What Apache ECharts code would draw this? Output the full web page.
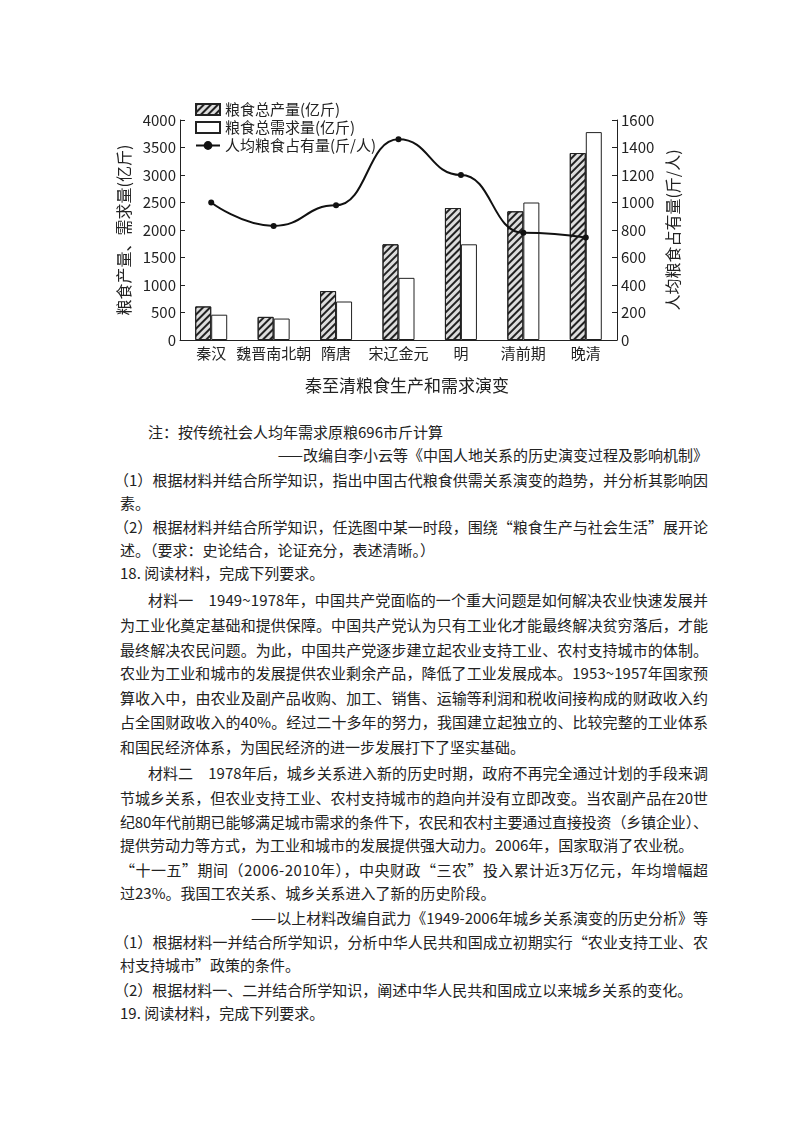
<!DOCTYPE html>
<html><head><meta charset="utf-8">
<script src="https://cdn.jsdelivr.net/npm/echarts@6/dist/echarts.min.js"></script>
<style>
body{margin:0;background:#fff;width:800px;height:1132px;position:relative;font-family:"Noto Sans CJK SC",sans-serif;color:#222}
#c{position:absolute;left:0;top:0;width:800px;height:410px}
.l{position:absolute;font-size:15px;line-height:20px;white-space:nowrap}
</style></head><body>
<div id="c"></div>
<div id="t"></div>
<script>
const categories=['秦汉','魏晋南北朝','隋唐','宋辽金元','明','清前期','晚清'];
const production=[610,420,890,1740,2400,2340,3400];
const demand=[460,390,700,1130,1740,2500,3780];
const perCapita=[1000,830,980,1460,1200,780,745];
const leftTicks=[0,4000,500];
const rightTicks=[0,1600,200];
// [y, mode(0 left,1 justify,2 right), text, indent]
const lines=[
[432,0,'注：按传统社会人均年需求原粮696市斤计算',28],
[455,2,'——改编自李小云等《中国人地关系的历史演变过程及影响机制》',0],
[480,1,'（1）根据材料并结合所学知识，指出中国古代粮食供需关系演变的趋势，并分析其影响因',-6],
[503,0,'素。',0],
[527,1,'（2）根据材料并结合所学知识，任选图中某一时段，围绕“粮食生产与社会生活”展开论',-6],
[550,0,'述。（要求：史论结合，论证充分，表述清晰。）',0],
[573,0,'18. 阅读材料，完成下列要求。',0],
[600,1,'材料一　1949~1978年，中国共产党面临的一个重大问题是如何解决农业快速发展并',28],
[625,1,'为工业化奠定基础和提供保障。中国共产党认为只有工业化才能最终解决贫穷落后，才能',0],
[650,1,'最终解决农民问题。为此，中国共产党逐步建立起农业支持工业、农村支持城市的体制。',0],
[673,1,'农业为工业和城市的发展提供农业剩余产品，降低了工业发展成本。1953~1957年国家预',0],
[698,1,'算收入中，由农业及副产品收购、加工、销售、运输等利润和税收间接构成的财政收入约',0],
[722,1,'占全国财政收入的40%。经过二十多年的努力，我国建立起独立的、比较完整的工业体系',0],
[747,0,'和国民经济体系，为国民经济的进一步发展打下了坚实基础。',0],
[773,1,'材料二　1978年后，城乡关系进入新的历史时期，政府不再完全通过计划的手段来调',28],
[798,1,'节城乡关系，但农业支持工业、农村支持城市的趋向并没有立即改变。当农副产品在20世',0],
[822,1,'纪80年代前期已能够满足城市需求的条件下，农民和农村主要通过直接投资（乡镇企业）、',0],
[845,0,'提供劳动力等方式，为工业和城市的发展提供强大动力。2006年，国家取消了农业税。',0],
[870,1,'“十一五”期间（2006-2010年），中央财政“三农”投入累计近3万亿元，年均增幅超',0],
[893,0,'过23%。我国工农关系、城乡关系进入了新的历史阶段。',0],
[918,2,'——以上材料改编自武力《1949-2006年城乡关系演变的历史分析》等',0],
[942,1,'（1）根据材料一并结合所学知识，分析中华人民共和国成立初期实行“农业支持工业、农',-6],
[965,0,'村支持城市”政策的条件。',0],
[990,0,'（2）根据材料一、二并结合所学知识，阐述中华人民共和国成立以来城乡关系的变化。',-6],
[1013,0,'19. 阅读材料，完成下列要求。',0]
];
const t=document.getElementById('t');
const R=708;
lines.forEach(([y,m,s,ind])=>{
 const d=document.createElement('div');d.className='l';d.style.top=(y-10)+'px';d.textContent=s;t.appendChild(d);
 const w=d.getBoundingClientRect().width;
 const L=120+ind;
 if(m===2){d.style.left=(R-w)+'px';}
 else{d.style.left=L+'px';
  if(m===1){const n=[...s].length;const ls=(R-L-w)/(n-1);d.style.letterSpacing=ls+'px';}
 }
});
const ch=echarts.init(document.getElementById('c'));
const ff='"Noto Sans CJK SC",sans-serif';
const ax={fontSize:15,color:'#222',fontFamily:ff};
const hatch={symbol:'rect',color:'#222',dashArrayX:[1,0],dashArrayY:[1.5,2.5],rotation:-Math.PI/4,symbolSize:1};
ch.setOption({
 animation:false,
 grid:{left:180,right:183,top:120,height:220},
 title:{text:'秦至清粮食生产和需求演变',top:372,left:300,textStyle:{fontSize:17,fontWeight:'normal',color:'#222',fontFamily:ff}},
 legend:{orient:'vertical',left:190,top:97,itemGap:3,itemWidth:24,itemHeight:11,textStyle:{fontSize:15,color:'#222',fontFamily:ff},
  data:[{name:'粮食总产量(亿斤)',icon:'rect'},{name:'粮食总需求量(亿斤)',icon:'rect'},{name:'人均粮食占有量(斤/人)'}]},
 xAxis:{type:'category',data:categories,axisLine:{lineStyle:{color:'#222'}},axisTick:{show:false},axisLabel:Object.assign({margin:6,interval:0},ax)},
 yAxis:[
  {type:'value',min:leftTicks[0],max:leftTicks[1],interval:leftTicks[2],splitLine:{show:false},axisLine:{show:true,lineStyle:{color:'#222'}},axisTick:{show:true,inside:true,length:5,lineStyle:{color:'#222'}},axisLabel:Object.assign({margin:4,formatter:v=>String(v)},ax),
   name:'粮食产量、需求量(亿斤)',nameLocation:'middle',nameRotate:90,nameGap:46,nameTextStyle:{fontSize:16,color:'#222',fontFamily:ff}},
  {type:'value',min:rightTicks[0],max:rightTicks[1],interval:rightTicks[2],splitLine:{show:false},axisLine:{show:true,lineStyle:{color:'#222'}},axisTick:{show:true,inside:true,length:5,lineStyle:{color:'#222'}},axisLabel:Object.assign({margin:4,formatter:v=>String(v)},ax),
   name:'人均粮食占有量(斤/人)',nameLocation:'middle',nameRotate:90,nameGap:44,nameTextStyle:{fontSize:16,color:'#222',fontFamily:ff}}
 ],
 series:[
  {name:'粮食总产量(亿斤)',type:'bar',data:production,barWidth:16,barGap:'0%',itemStyle:{color:'#ddd',borderColor:'#222',borderWidth:1,decal:hatch}},
  {name:'粮食总需求量(亿斤)',type:'bar',data:demand,barWidth:16,itemStyle:{color:'#fff',borderColor:'#222',borderWidth:1}},
  {name:'人均粮食占有量(斤/人)',type:'line',yAxisIndex:1,data:perCapita,smooth:0.5,smoothMonotone:'x',symbol:'circle',symbolSize:6,itemStyle:{color:'#111'},lineStyle:{color:'#111',width:2},z:5}
 ]
});
</script></body></html>
